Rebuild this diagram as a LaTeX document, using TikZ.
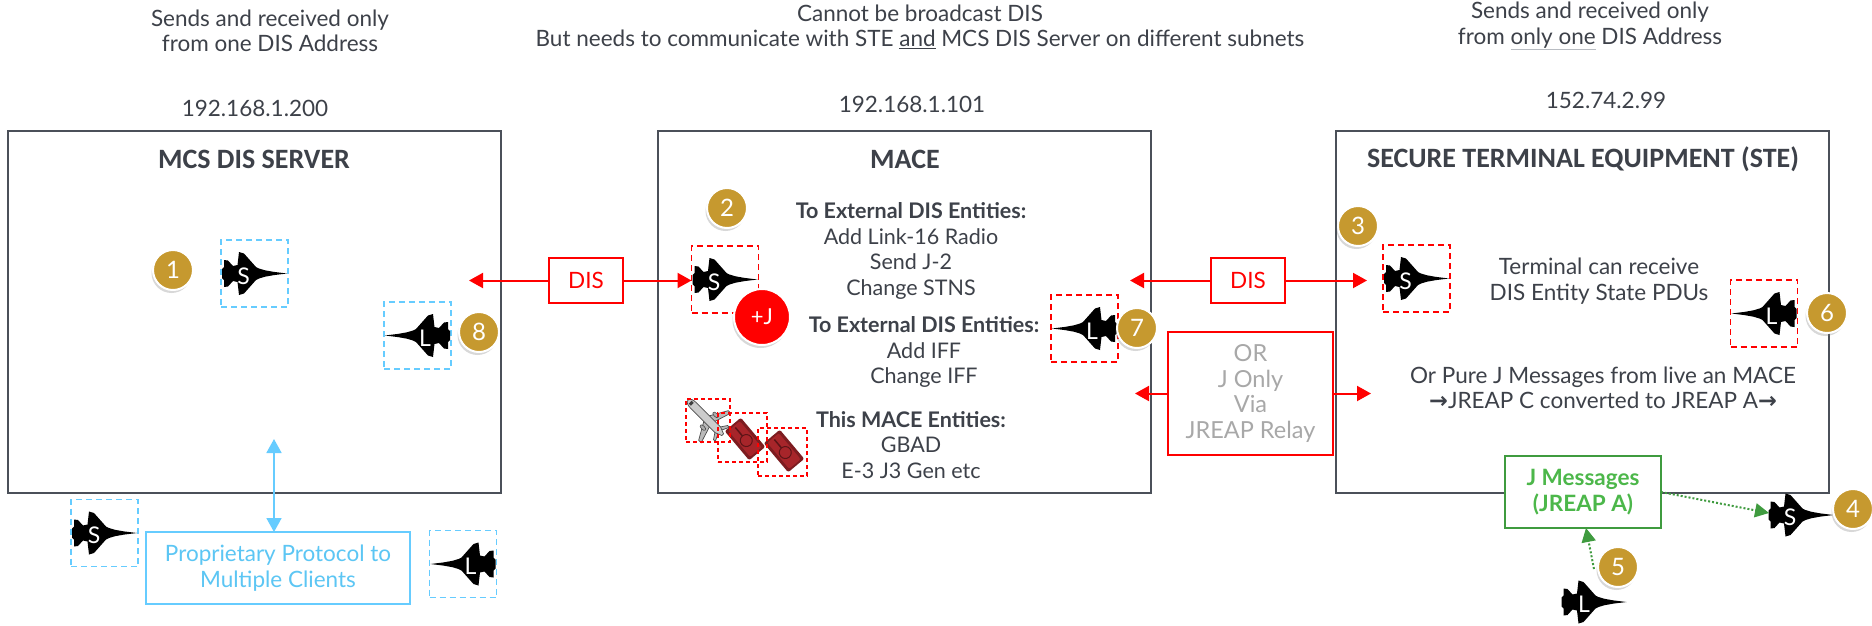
\documentclass[tikz,border=0pt]{standalone}
\usepackage{fontspec}
\setmainfont{Lato}
\newfontfamily\titlefont{Carlito}
\newfontfamily\symbolfont{DejaVu Sans}
\usetikzlibrary{arrows.meta,shadows}

\definecolor{ink}{HTML}{3D4149}
\definecolor{frame}{HTML}{4B5059}
\definecolor{faint}{HTML}{B8BCC2}
\definecolor{disred}{HTML}{FF0000}
\definecolor{skyblue}{HTML}{66CCFF}
\definecolor{skytext}{HTML}{5CC6F4}
\definecolor{gold}{HTML}{C6992F}
\definecolor{jgreen}{HTML}{3F9B3F}
\definecolor{jgreentext}{HTML}{4CB74A}
\definecolor{relaygray}{HTML}{A8A8A8}
\definecolor{tankred}{HTML}{A7252A}

\newcommand{\rarrow}{{\symbolfont\bfseries\char"2192}}

\tikzset{
  every node/.style={text=ink, inner sep=0pt, outer sep=0pt},
  txt/.style={font=\fontsize{22.5}{25.5}\selectfont, align=center},
  mtxt/.style={font=\fontsize{21.5}{25.5}\selectfont, align=center},
  ttl/.style={font=\titlefont\bfseries\fontsize{28}{30}\selectfont, text=ink},
  panel/.style={draw=frame, line width=2pt, minimum width=493pt, minimum height=362pt},
  disbox/.style={draw=disred, line width=2pt, fill=white, text=disred,
    minimum width=74pt, minimum height=45pt, font=\fontsize{22.5}{25}\selectfont},
  disarrow/.style={draw=disred, line width=2pt, -{Triangle[length=14pt,width=15pt]}},
  bluedash/.style={draw=skyblue, line width=1.8pt, dash pattern=on 6pt off 4pt,
    minimum width=67pt, minimum height=67pt},
  reddash/.style={draw=disred, line width=1.8pt, dash pattern=on 6pt off 4pt,
    minimum width=67pt, minimum height=67pt},
  smalldash/.style={draw=disred, line width=1.4pt, dash pattern=on 4pt off 3pt},
  badge/.style={circle, fill=gold, draw=white, line width=2pt, minimum size=40pt,
    text=white, font=\fontsize{24}{24}\selectfont,
    drop shadow={shadow xshift=-1.5pt, shadow yshift=-3pt, opacity=0.3}},
  plusj/.style={circle, fill=disred, draw=white, line width=2pt, minimum size=56pt,
    text=white, font=\fontsize{22}{22}\selectfont,
    drop shadow={shadow xshift=-1.5pt, shadow yshift=-3pt, opacity=0.3}},
  jetletter/.style={text=white, font=\fontsize{23}{23}\selectfont},
  greendot/.style={draw=jgreen, line width=2pt, dash pattern=on 2pt off 2pt,
    -{Triangle[length=14pt,width=14pt]}},
  bluearrow/.style={draw=skyblue, line width=1.8pt,
    {Triangle[length=14pt,width=15pt]}-{Triangle[length=14pt,width=15pt]}},
  fighter/.pic={
    \fill[black] (34,0) -- (21,1.6) -- (12,3.2) -- (6,5) -- (3,6.5)
      -- (-9,20) -- (-14,21.5) -- (-15.5,8.5) -- (-20,7.5) -- (-25,13)
      -- (-29,13.5) -- (-29,6.5) -- (-31,4.5) -- (-31,-4.5) -- (-29,-6.5)
      -- (-29,-13.5) -- (-25,-13) -- (-20,-7.5) -- (-15.5,-8.5) -- (-14,-21.5)
      -- (-9,-20) -- (3,-6.5) -- (6,-5) -- (12,-3.2) -- (21,-1.6) -- cycle;
  },
  airliner/.pic={
    \filldraw[fill=gray!55, draw=black!70, line width=0.7pt]
      (-2,3.5) -- (-12,21) -- (-15.5,21) -- (-10,3.5) -- cycle
      (-2,-3.5) -- (-12,-21) -- (-15.5,-21) -- (-10,-3.5) -- cycle
      (-17,2.5) -- (-22,10) -- (-24.5,10) -- (-21,2.5) -- cycle
      (-17,-2.5) -- (-22,-10) -- (-24.5,-10) -- (-21,-2.5) -- cycle;
    \filldraw[fill=gray!40, draw=black!70, line width=0.7pt]
      (24,0) .. controls (24,3) and (20,4) .. (16,4) -- (-18,4)
      -- (-25,1.2) -- (-25,-1.2) -- (-18,-4) -- (16,-4)
      .. controls (20,-4) and (24,-3) .. (24,0) -- cycle;
    \filldraw[fill=gray!65, draw=black!70, line width=0.6pt]
      (-6,9) ellipse (3.5 and 1.8) (-6,-9) ellipse (3.5 and 1.8);
    \fill[black!75] (18,-2) rectangle (21,2);
  },
  tank/.pic={
    \fill[tankred!75!black, rounded corners=2pt] (-19,-10.5) rectangle (19,10.5);
    \fill[tankred, rounded corners=2pt] (-17,-7.5) rectangle (17,7.5);
    \draw[tankred!55!black, line width=1pt] (2,0) circle (6);
    \draw[tankred!55!black, line width=1.5pt] (-4,0) -- (-15,0);
  }
}

\begin{document}
\begin{tikzpicture}[x=1pt,y=-1pt]
\useasboundingbox (0,0) rectangle (1872,625);
\fill[white] (0,0) rectangle (1872,625);

% headings above the three systems
\node[txt] (hdrL) at (270,31) {Sends and received only\\from one DIS Address};
\node[txt] (hdrM) at (920,27) {Cannot be broadcast DIS\\But needs to communicate with STE \underline{and} MCS DIS Server on different subnets};
\node[txt] (hdrR) at (1590,26) {Sends and received only\\from {\color{faint}\underline{\color{ink}only one}} DIS Address};

% network addresses
\node[txt] (ipL) at (255,108) {192.168.1.200};
\node[txt] (ipM) at (912,104) {192.168.1.101};
\node[txt] (ipR) at (1606,100) {152.74.2.99};

% system panels
\node[panel] (mcs) at (254.5,312) {};
\node[panel] (mace) at (904,312) {};
\node[panel] (ste) at (1582.5,311.5) {};
\node[ttl] (mcsT) at (254,159) {MCS DIS SERVER};
\node[ttl] (maceT) at (905,159) {MACE};
\node[ttl] (steT) at (1583,159) {SECURE TERMINAL EQUIPMENT (STE)};

% ---------------- MCS DIS server ----------------
\node[bluedash] (mcsS) at (254.5,273.5) {};
\pic at (253,273.5) {fighter};
\node[jetletter] (mcsSl) at (243.5,276) {S};

\node[bluedash] (mcsL) at (417.5,335.5) {};
\pic[xscale=-1] at (419,335.5) {fighter};
\node[jetletter] (mcsLl) at (425,338) {L};

\node[bluedash] (cliS) at (104.5,533) {};
\pic at (103,533) {fighter};
\node[jetletter] (cliSl) at (94,535.5) {S};

\node[bluedash] (cliL) at (463,564) {};
\pic[xscale=-1] at (464.5,564) {fighter};
\node[jetletter] (cliLl) at (470.5,566.5) {L};

\node[draw=skyblue, line width=2pt, minimum width=264pt, minimum height=72pt,
      text=skytext, font=\fontsize{22.5}{26}\selectfont, align=center]
      (prop) at (278,568) {Proprietary Protocol to\\Multiple Clients};
\coordinate (mcsIn) at (274,439);
\draw[bluearrow] (mcsIn) -- (mcsIn |- prop.north);

\node[badge] (b1) at (173,270) {1};
\node[badge] (b8) at (479,332) {8};

% ---------------- MACE ----------------
\node[reddash] (maceS) at (725,279.5) {};
\pic at (723.5,279.5) {fighter};
\node[jetletter] (maceSl) at (714,282) {S};

\node[reddash] (maceL) at (1084.5,328.5) {};
\pic[xscale=-1] at (1086,328.5) {fighter};
\node[jetletter] (maceLl) at (1092,331) {L};

\node[mtxt] (ext1) at (911,251) {\textbf{To External DIS Entities:}\\Add Link-16 Radio\\Send J-2\\Change STNS};
\node[mtxt] (ext2) at (924,352) {\textbf{To External DIS Entities:}\\Add IFF\\Change IFF};
\node[mtxt] (own) at (911,445) {\textbf{This MACE Entities:}\\GBAD\\E-3 J3 Gen etc};

\pic[rotate=135] at (705,417) {airliner};
\pic[rotate=-50] at (745,439) {tank};
\pic[rotate=-50] at (784,451) {tank};
\node[smalldash, minimum width=44pt, minimum height=43pt] (gbadAir) at (708,420.5) {};
\node[smalldash, minimum width=49pt, minimum height=49pt] (gbadA) at (742.5,437.5) {};
\node[smalldash, minimum width=49pt, minimum height=48pt] (gbadB) at (782.5,452) {};

\node[plusj] (plusJ) at (762,317) {+J};
\node[badge] (b2) at (727,208) {2};
\node[badge] (b7) at (1137,328) {7};

% DIS links
\node[disbox] (disL) at (586,280.5) {DIS};
\coordinate (mcsTip) at (469,280.5);
\draw[disarrow] (disL.west) -- (mcsTip);
\draw[disarrow] (disL.east) -- (disL.east -| maceS.west);

\node[disbox] (disR) at (1248,280.5) {DIS};
\coordinate (maceTip) at (1130,280.5);
\coordinate (steTip) at (1367,280.5);
\draw[disarrow] (disR.west) -- (maceTip);
\draw[disarrow] (disR.east) -- (steTip);

% JREAP relay
\node[draw=disred, line width=2pt, fill=white, minimum width=165pt, minimum height=123pt,
      text=relaygray, font=\fontsize{23.5}{25.5}\selectfont, align=center]
      (relay) at (1250.5,393.5) {OR\\J Only\\Via\\JREAP Relay};
\coordinate (relayIn) at (1135,393.5);
\coordinate (relayOut) at (1371,393.5);
\draw[disarrow] (relay.west) -- (relayIn);
\draw[disarrow] (relay.east) -- (relayOut);

% ---------------- STE ----------------
\node[reddash] (steS) at (1416.5,278.5) {};
\pic at (1415,278.5) {fighter};
\node[jetletter] (steSl) at (1405.5,281) {S};

\node[reddash] (steL) at (1764,313.5) {};
\pic[xscale=-1] at (1765.5,313.5) {fighter};
\node[jetletter] (steLl) at (1771.5,316) {L};

\node[txt] (pdu) at (1599,281) {Terminal can receive\\DIS Entity State PDUs};
\node[txt] (pure) at (1603,388) {Or Pure J Messages from live an MACE\\\rarrow JREAP C converted to JREAP A\rarrow};

\node[draw=jgreen, line width=2pt, fill=white, minimum width=156pt, minimum height=72pt,
      text=jgreentext, font=\bfseries\fontsize{22.5}{25.5}\selectfont, align=center]
      (jmsg) at (1583,492) {J Messages\\(JREAP A)};

\pic at (1799.5,515) {fighter};
\node[jetletter] (liveSl) at (1790,517.5) {S};
\coordinate (liveSTail) at (1769,513);
\draw[greendot] (jmsg.east) -- (liveSTail);

\pic at (1592.5,602) {fighter};
\node[jetletter] (liveLl) at (1584,604.5) {L};
\coordinate (liveLNose) at (1594,569);
\draw[greendot] (liveLNose) -- (jmsg.south -| 1586,0);

\node[badge] (b3) at (1358,226) {3};
\node[badge] (b6) at (1827,313) {6};
\node[badge] (b4) at (1853,509) {4};
\node[badge] (b5) at (1618,567) {5};
\end{tikzpicture}
\end{document}
